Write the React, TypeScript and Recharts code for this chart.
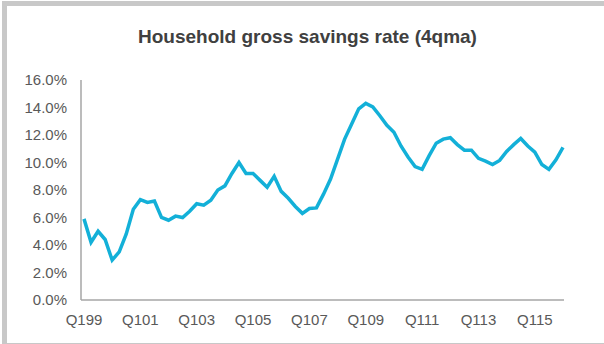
import { LineChart, Line, XAxis, YAxis } from 'recharts';

// 분기 라벨 (Q1 99 ~ Q1 16)
const quarters: string[] = [];
for (let y = 1999; y <= 2016; y++) {
  for (let q = 1; q <= 4; q++) {
    if (y === 2016 && q > 1) break;
    quarters.push(`Q${q}${String(y % 100).padStart(2, '0')}`);
  }
}

// 가계 총저축률 (4분기 이동평균, %)
const savingsRate = [
  5.9, 4.2, 5.0, 4.4, 2.9, 3.5, 4.8, 6.6, 7.3, 7.1, 7.2, 6.0, 5.8, 6.1, 6.0, 6.45,
  7.0, 6.9, 7.25, 8.0, 8.3, 9.2, 10.0, 9.2, 9.2, 8.7, 8.2, 9.0, 7.9, 7.4, 6.8, 6.3,
  6.65, 6.7, 7.7, 8.8, 10.25, 11.7, 12.8, 13.9, 14.3, 14.05, 13.4, 12.7, 12.2, 11.2, 10.4, 9.7,
  9.5, 10.5, 11.4, 11.7, 11.8, 11.3, 10.9, 10.9, 10.3, 10.1, 9.85, 10.15, 10.8, 11.3, 11.75, 11.2,
  10.75, 9.85, 9.5, 10.2, 11.1,
];

const yTicks = [0, 2, 4, 6, 8, 10, 12, 14, 16];

const data = quarters.map((q, i) => ({ quarter: q, rate: savingsRate[i] }));

const FONT = '"Liberation Sans", Arial, sans-serif';
const AXIS_GRAY = '#a6a6a6';
const TICK_COLOR = '#595959';

export default function App() {
  return (
    <div style={{ position: 'fixed', left: 0, top: 0, width: 604, height: 344, background: '#fff', fontFamily: FONT }}>
      {/* 카드 테두리 */}
      <div
        style={{
          position: 'absolute',
          left: 2,
          top: 1,
          width: 610,
          height: 337,
          borderLeft: '5px solid #c8c8c8',
          borderTop: '5px solid #c8c8c8',
          borderBottom: '3px solid #c8c8c8',
        }}
      />
      <div
        style={{
          position: 'absolute',
          left: 0,
          top: 26,
          width: 615,
          textAlign: 'center',
          fontSize: 19,
          fontWeight: 'bold',
          color: '#404040',
          lineHeight: '22px',
        }}
      >
        Household gross savings rate (4qma)
      </div>
      <div style={{ position: 'absolute', left: 0, top: 0 }}>
        <LineChart width={604} height={344} data={data} margin={{ top: 80, right: 40, bottom: 14, left: 0 }}>
          <XAxis
            dataKey="quarter"
            interval={7}
            height={30}
            padding={{ left: 3, right: 1 }}
            tickLine={false}
            tickSize={0}
            tickMargin={14}
            stroke={AXIS_GRAY}
            strokeWidth={1.5}
            tick={{ fill: TICK_COLOR, fontSize: 15, fontFamily: FONT }}
          />
          <YAxis
            width={81}
            domain={[0, 16]}
            ticks={yTicks}
            tickFormatter={(v: number) => `${v.toFixed(1)}%`}
            tickLine={false}
            tickSize={0}
            tickMargin={14}
            stroke={AXIS_GRAY}
            strokeWidth={1.5}
            tick={{ fill: TICK_COLOR, fontSize: 15, fontFamily: FONT }}
          />
          <Line
            type="linear"
            dataKey="rate"
            stroke="#13b0d8"
            strokeWidth={3.5}
            dot={false}
            isAnimationActive={false}
          />
        </LineChart>
      </div>
    </div>
  );
}
